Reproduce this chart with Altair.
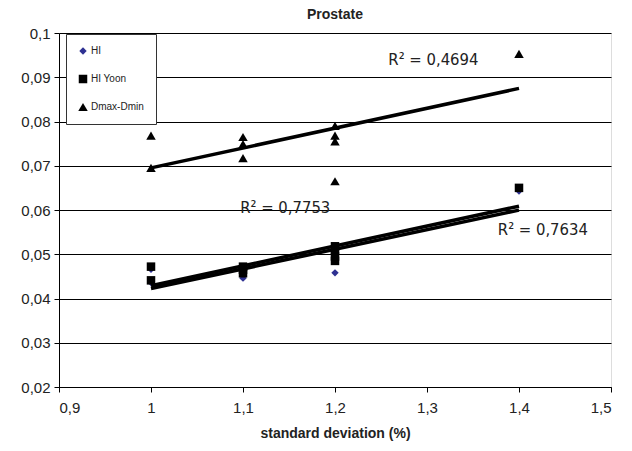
import altair as alt
import pandas as pd

series_names = ["HI", "HI Yoon", "Dmax-Dmin"]

hi_x = [1.0, 1.0, 1.1, 1.1, 1.1, 1.2, 1.2, 1.2, 1.2, 1.4]
hi_y = [0.0466, 0.0436, 0.0468, 0.0460, 0.0446, 0.0516, 0.0506, 0.0492, 0.0458, 0.0643]

yoon_x = [1.0, 1.0, 1.1, 1.1, 1.1, 1.2, 1.2, 1.2, 1.2, 1.4]
yoon_y = [0.0472, 0.0441, 0.0472, 0.0465, 0.0457, 0.0518, 0.0508, 0.0495, 0.0485, 0.0650]

dmax_x = [1.0, 1.0, 1.1, 1.1, 1.1, 1.2, 1.2, 1.2, 1.2, 1.4]
dmax_y = [0.0768, 0.0695, 0.0765, 0.0749, 0.0717, 0.0790, 0.0768, 0.0755, 0.0665, 0.0953]

r2_labels = ["R² = 0,4694", "R² = 0,7753", "R² = 0,7634"]
r2_x = [1.258, 1.097, 1.377]
r2_y = [0.0938, 0.0605, 0.0555]

rows = []
for name, xs, ys in [("HI", hi_x, hi_y), ("HI Yoon", yoon_x, yoon_y), ("Dmax-Dmin", dmax_x, dmax_y)]:
    for xv, yv in zip(xs, ys):
        rows.append({"series": name, "x": xv, "y": yv})
df = pd.DataFrame(rows)
df_r2 = pd.DataFrame({"label": r2_labels, "x": r2_x, "y": r2_y})

FONT = "Liberation Sans"

xscale = alt.Scale(domain=[0.9, 1.5], nice=False, zero=False)
yscale = alt.Scale(domain=[0.02, 0.1], nice=False, zero=False)

xaxis = alt.Axis(
    title="standard deviation (%)",
    values=[0.9, 1.0, 1.1, 1.2, 1.3, 1.4, 1.5],
    labelExpr="replace(format(datum.value, '~g'), '.', ',')",
    grid=False, domainColor="black", tickColor="black", tickSize=5,
    labelFont=FONT, labelFontSize=15, labelColor="#222", labelPadding=8,
    titleFont=FONT, titleFontSize=14, titleFontWeight="bold", titleColor="#222",
    titlePadding=11,
)
yaxis = alt.Axis(
    title=None,
    values=[0.02, 0.03, 0.04, 0.05, 0.06, 0.07, 0.08, 0.09, 0.1],
    labelExpr="replace(format(datum.value, '~g'), '.', ',')",
    grid=True, gridColor="black", gridOpacity=1, gridWidth=1,
    domainColor="black", tickColor="black", tickSize=5,
    labelFont=FONT, labelFontSize=15, labelColor="#222", labelPadding=4,
)

legend_props = dict(title=None, orient="none", legendX=7, legendY=1,
                    fillColor="white", strokeColor="#333", padding=12,
                    rowPadding=18, labelFont=FONT, labelFontSize=10,
                    labelColor="#222", symbolSize=60, symbolStrokeWidth=0,
                    labelOffset=3, cornerRadius=0)

base = alt.Chart(df)

points = base.mark_point(filled=True, opacity=1).encode(
    x=alt.X("x:Q", scale=xscale, axis=xaxis),
    y=alt.Y("y:Q", scale=yscale, axis=yaxis),
    shape=alt.Shape("series:N", scale=alt.Scale(domain=series_names, range=["diamond", "square", "triangle-up"]),
                    legend=alt.Legend(**legend_props)),
    color=alt.Color("series:N", scale=alt.Scale(domain=series_names, range=["#2E3192", "black", "black"]),
                    legend=alt.Legend(**legend_props)),
    size=alt.Size("series:N", scale=alt.Scale(domain=series_names, range=[55, 90, 140]), legend=None),
)

trend = base.transform_regression("x", "y", groupby=["series"]).mark_line(
    color="black", strokeWidth=3.5
).encode(x="x:Q", y="y:Q", detail="series:N")

texts = alt.Chart(df_r2).mark_text(
    align="left", baseline="middle", font="DejaVu Sans Condensed, Liberation Sans Narrow, " + FONT,
    fontSize=16.5, color="#222"
).encode(x="x:Q", y="y:Q", text="label:N")

chart = alt.layer(points, trend, texts).properties(
    width=552, height=354,
    title=alt.TitleParams("Prostate", font=FONT, fontSize=14, fontWeight="bold", color="#222",
                          anchor="middle", frame="group", offset=4),
    autosize=alt.AutoSizeParams(type="none"),
    padding={"left": 51, "top": 25, "right": 13, "bottom": 56},
).configure_view(stroke="#8c8c8c", strokeWidth=2).configure(background="white")

chart.save("out.html", embed_options={"renderer": "svg", "actions": False})
